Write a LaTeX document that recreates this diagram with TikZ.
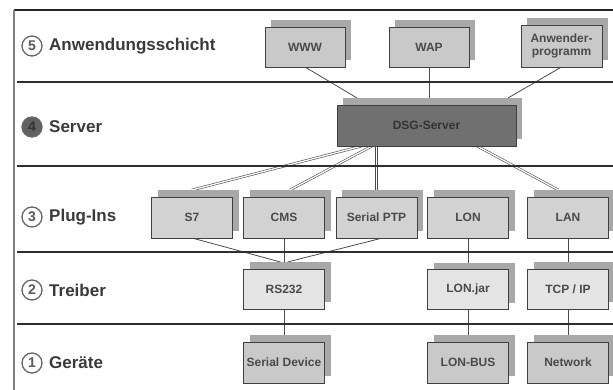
\documentclass[tikz,border=0pt]{standalone}
\usepackage{fontspec}
\setmainfont{Liberation Sans}
\usetikzlibrary{calc,backgrounds}
\pgfdeclarelayer{bottom}
\pgfsetlayers{bottom,background,main}
\definecolor{txt}{HTML}{3A3A3A}
\definecolor{boxtxt}{HTML}{4A4A4A}
\definecolor{shad}{HTML}{A8A8A8}
\definecolor{fillA}{HTML}{C9C9C9}
\definecolor{fillP}{HTML}{D2D2D2}
\definecolor{fillT}{HTML}{E4E4E4}
\definecolor{fillS}{HTML}{707070}
\definecolor{sep}{HTML}{2E2E2E}
\tikzset{
  shadowbox/.style={fill=shad, draw=none, inner sep=0pt, outer sep=0pt},
  frontbox/.style={draw=black!75, line width=0.9pt, inner sep=0pt, outer sep=0pt,
    text=boxtxt, align=center, font=\bfseries\fontsize{12}{13}\selectfont},
  layerlabel/.style={anchor=west, inner sep=0pt, text=txt, font=\bfseries\fontsize{17}{20}\selectfont},
  circnum/.style={circle, draw=black!60, line width=1.3pt, minimum size=20pt, inner sep=0pt,
    text=black!65, font=\bfseries\fontsize{14}{14}\selectfont},
  single/.style={draw=black!70, line width=0.8pt},
  dbl/.style={draw=black!70, line width=0.6pt, double=white, double distance=1.3pt},
  sepline/.style={draw=sep, line width=1.6pt}
}
\newcommand\mkbox[7]{%
  \node[shadowbox, minimum width=#4pt, minimum height=#5pt] (#1-s) at (#2+6,#3-7) {};
  \node[frontbox, fill=#6, minimum width=#4pt, minimum height=#5pt] (#1) at (#2,#3) {#7};
}
\begin{document}
\begin{tikzpicture}[x=1pt,y=-1pt]
\useasboundingbox (0,0) rectangle (613,390);
\begin{pgfonlayer}{bottom}
\fill[white] (0,0) rectangle (613,390);
\end{pgfonlayer}
% frame
\draw[draw=black!85, line width=1.2pt] (14,10) -- (613,10);
\draw[draw=black!50, line width=1.6pt] (14,10) -- (14,390);
% separators
\foreach \yy in {82,166,252,324} \draw[sepline] (17,\yy) -- (613,\yy);
% left labels
\node[circnum] (c5) at (32,46) {5};
\node[layerlabel] (l5) at (49,46) {Anwendungsschicht};
\node[circnum, fill=black!62, text=black!80] (c4) at (32,127) {4};
\node[layerlabel] (l4) at (49,127) {Server};
\node[circnum] (c3) at (32,217) {3};
\node[layerlabel] (l3) at (49,217) {Plug-Ins};
\node[circnum] (c2) at (32,290) {2};
\node[layerlabel] (l2) at (49,290) {Treiber};
\node[circnum] (c1) at (32,363) {1};
\node[layerlabel] (l1) at (49,363) {Geräte};
% boxes
\mkbox{www}{305}{47}{80}{40}{fillA}{WWW}
\mkbox{wap}{429}{47}{80}{40}{fillA}{WAP}
\mkbox{anw}{561.5}{46}{81}{42}{fillA}{Anwender-\\programm}
\mkbox{srv}{426.5}{125.5}{179}{41}{fillS}{\textcolor{black!80}{DSG-Server}}
\mkbox{s7}{192}{217.5}{81}{41}{fillP}{S7}
\mkbox{cms}{284}{217.5}{81}{41}{fillP}{CMS}
\mkbox{ptp}{376.5}{217.5}{81}{41}{fillP}{Serial PTP}
\mkbox{lon}{468}{217.5}{81}{41}{fillP}{LON}
\mkbox{lan}{568}{217.5}{81}{41}{fillP}{LAN}
\mkbox{rs}{284}{289}{81}{40}{fillT}{RS232}
\mkbox{lj}{468}{289.5}{81}{40}{fillT}{LON.jar}
\mkbox{tcp}{568}{289}{81}{40}{fillT}{TCP / IP}
\mkbox{sd}{284}{362.5}{81}{41}{fillA}{Serial Device}
\mkbox{lb}{468}{362.5}{81}{41}{fillA}{LON-BUS}
\mkbox{nw}{568}{362.5}{81}{41}{fillA}{Network}
% connectors
\begin{pgfonlayer}{background}
\draw[single] (www.south) -- ($(srv-s.north west)+(14,0)$);
\draw[single] (wap.south) -- (wap.south |- srv-s.north);
\draw[single] (anw.south) -- ($(srv-s.north west)+(165,0)$);
\draw[dbl] ($(srv.south west)+(25,0)$) -- (s7.north |- s7-s.north);
\draw[dbl] ($(srv.south west)+(35,0)$) -- (cms-s.north);
\draw[dbl] (ptp.north |- srv.south) -- (ptp.north |- ptp-s.north);
\draw[dbl] (lon.north |- srv.south) -- (lon.north |- lon-s.north);
\draw[dbl] ($(srv.south west)+(140,0)$) -- ($(lan-s.north west)+(25,0)$);
\draw[single] (s7.south) -- ($(rs-s.north west)+(31,0)$);
\draw[single] (cms.south) -- (cms.south |- rs-s.north);
\draw[single] ($(ptp.south)+(6,0)$) -- ($(rs-s.north west)+(38,0)$);
\draw[single] (lon.south) -- (lon.south |- lj-s.north);
\draw[single] (lan.south) -- (lan.south |- tcp-s.north);
\draw[single] (rs.south) -- (rs.south |- sd-s.north);
\draw[single] (lj.south) -- (lj.south |- lb-s.north);
\draw[single] (tcp.south) -- (tcp.south |- nw-s.north);
\end{pgfonlayer}
\end{tikzpicture}
\end{document}
